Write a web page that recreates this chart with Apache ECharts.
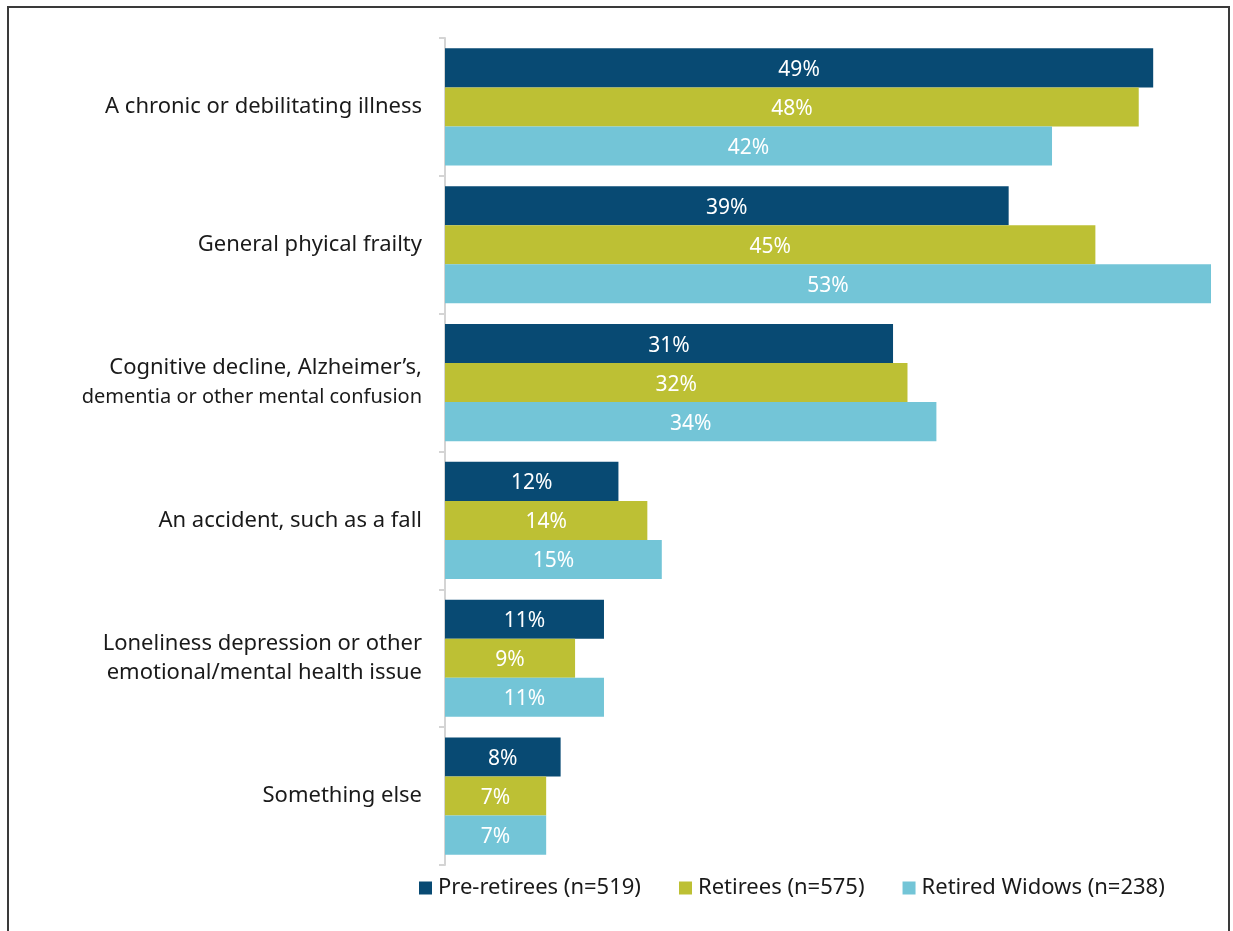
<!DOCTYPE html>
<html>
<head>
<meta charset="utf-8">
<script src="https://cdn.jsdelivr.net/npm/echarts@6/dist/echarts.min.js"></script>
<style>
html,body{margin:0;padding:0;background:#fff;}
#chart{position:absolute;left:0;top:0;width:1233px;height:931px;}
#frame{position:absolute;left:7px;top:6px;width:1223px;height:940px;border:2px solid #3a3a3a;box-sizing:border-box;pointer-events:none;}
</style>
</head>
<body>
<div id="chart"></div>
<div id="frame"></div>
<script>
const categories = [
  "A chronic or debilitating illness",
  "General phyical frailty",
  "Cognitive decline, Alzheimer\u2019s,\ndementia or other mental confusion",
  "An accident, such as a fall",
  "Loneliness depression or other\nemotional/mental health issue",
  "Something else"
];
const seriesNames = ["Pre-retirees (n=519)", "Retirees (n=575)", "Retired Widows (n=238)"];
const preRetirees = [49, 39, 31, 12, 11, 8];
const retirees = [48, 45, 32, 14, 9, 7];
const retiredWidows = [42, 53, 34, 15, 11, 7];
const colors = ["#084a73", "#bdc034", "#73c5d7"];

const chart = echarts.init(document.getElementById('chart'), null, {renderer: 'canvas'});
const dataSets = [preRetirees, retirees, retiredWidows];
const option = {
  animation: false,
  textStyle: {fontFamily: 'Noto Sans'},
  grid: {left: 445, right: 22, top: 38, bottom: 66, containLabel: false},
  legend: {
    data: seriesNames,
    top: 872,
    left: 414,
    itemWidth: 13,
    itemHeight: 13,
    itemGap: 38,
    icon: 'rect',
    textStyle: {fontFamily: 'Noto Sans', fontSize: 22, color: '#1a1a1a', padding: [0, 0, 0, 1]}
  },
  xAxis: {
    type: 'value', min: 0, max: 53,
    show: false
  },
  yAxis: {
    type: 'category',
    data: categories,
    inverse: true,
    axisLine: {show: true, lineStyle: {color: '#d4d4d4', width: 2}},
    axisTick: {show: true, length: 6, lineStyle: {color: '#d4d4d4', width: 2}},
    axisLabel: {
      fontFamily: 'Noto Sans', fontSize: 22, color: '#1a1a1a', margin: 23, lineHeight: 29, align: 'right',
      formatter: function (v) {
        return v.split('\n').map(function (line) {
          return line.length > 33 ? '{n|' + line + '}' : '{d|' + line + '}';
        }).join('\n');
      },
      rich: {
        d: {fontFamily: 'Noto Sans', fontSize: 22, color: '#1a1a1a', lineHeight: 29, align: 'right'},
        n: {fontFamily: 'Noto Sans', fontSize: 20, color: '#1a1a1a', lineHeight: 29, align: 'right'}
      }
    },
    splitLine: {show: false}
  },
  series: dataSets.map((d, i) => ({
    name: seriesNames[i],
    type: 'bar',
    data: d,
    barGap: '0%',
    barCategoryGap: '15%',
    itemStyle: {color: colors[i]},
    label: {
      show: true, position: 'inside', formatter: '{c}%',
      color: '#fff', fontFamily: 'Noto Sans', fontSize: 21, offset: [0, 2]
    }
  }))
};
chart.setOption(option);
</script>
</body>
</html>
